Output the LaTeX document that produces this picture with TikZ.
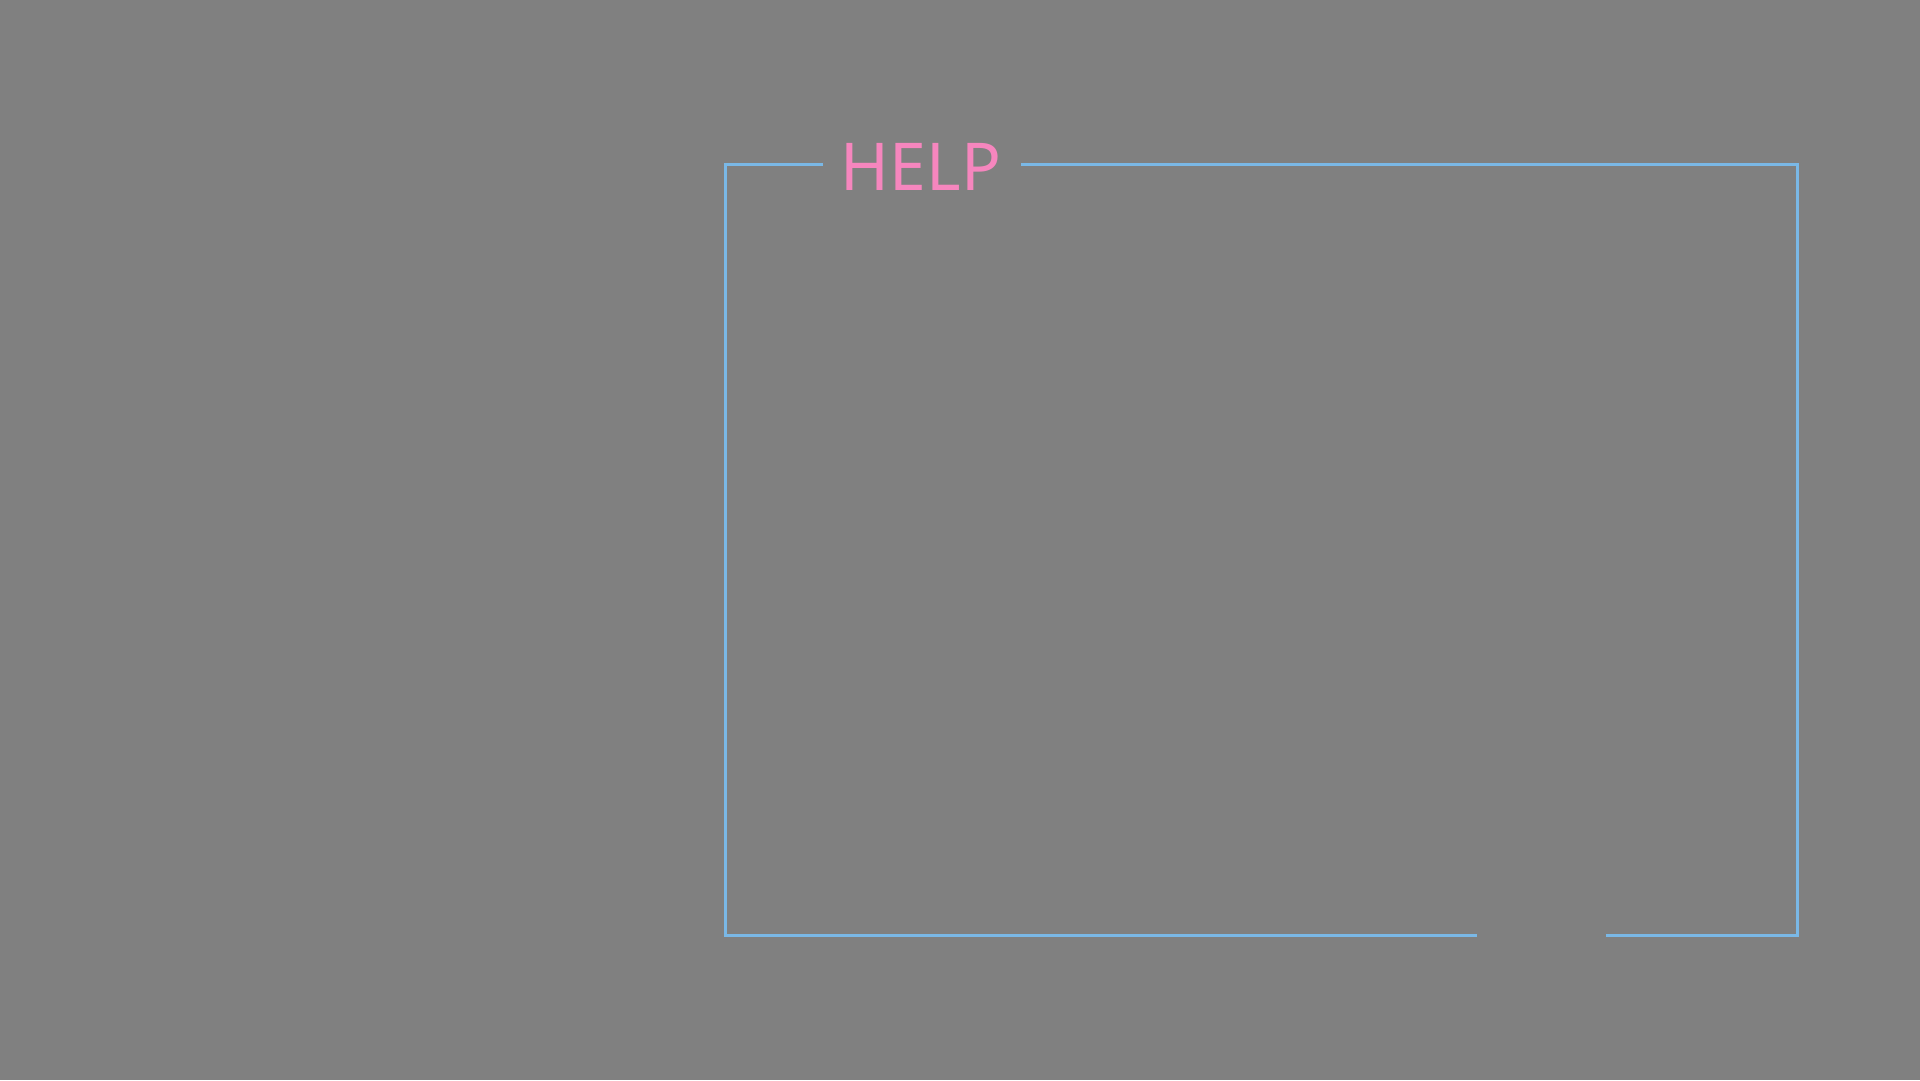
\documentclass[tikz,border=0pt]{standalone}
\usepackage{fontspec}
\setmainfont{Noto Sans}
\usepackage{xcolor}
\usetikzlibrary{calc, positioning}
\definecolor{bggray}{RGB}{128,128,128}
\definecolor{framblue}{RGB}{122,184,230}
\definecolor{helppink}{RGB}{246,134,190}

\begin{document}
\begin{tikzpicture}[x=1pt, y=-1pt]
		\tikzstyle{frame} = [draw=framblue, line width=3pt, line cap=rect]
		\tikzstyle{title} = [text=helppink, font=\fontsize{66}{66}\selectfont, inner sep=0pt, anchor=base]

		\fill[bggray] (0, 0) rectangle (1920, 1080);
		\useasboundingbox (0, 0) rectangle (1920, 1080);

		\node[title]	at (921, 190)	(help)	{HELP};

		\coordinate (tl) at (725, 164);
		\coordinate (tr) at (1797, 164);
		\coordinate (bl) at (725, 935);
		\coordinate (br) at (1797, 935);
		\coordinate (t1) at (821, 164);
		\coordinate (t2) at (1022, 164);
		\coordinate (b1) at (1475, 935);
		\coordinate (b2) at (1607, 935);

		\draw [frame] (t1) -- (tl) -- (bl) -- (b1);
		\draw [frame] (b2) -- (br) -- (tr) -- (t2);
	\end{tikzpicture}
\end{document}
